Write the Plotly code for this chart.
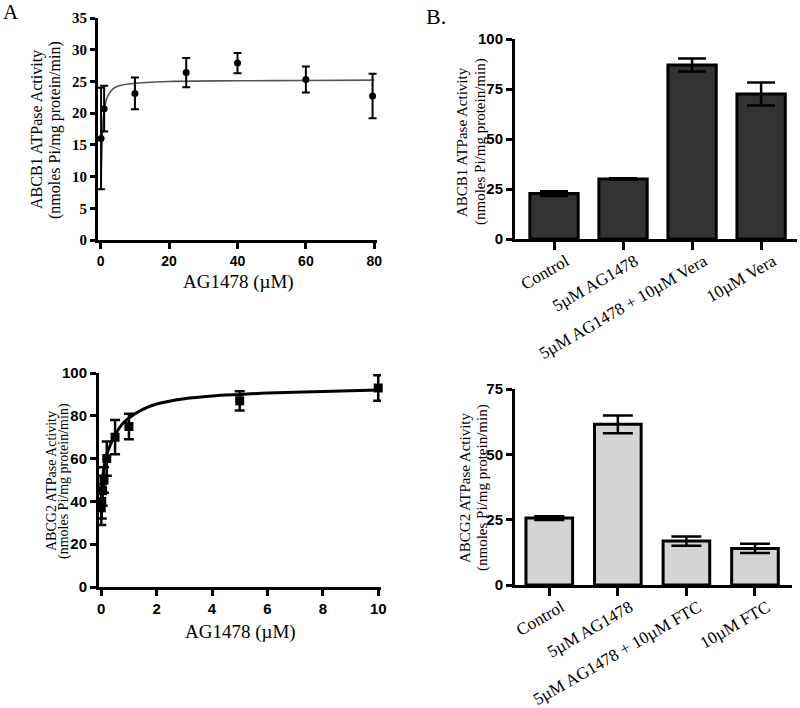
import plotly.graph_objects as go

# ---- Panel A top: ABCB1 vs AG1478 (0-80 uM)
a1_x = [0.1, 1, 10, 25, 40, 60, 79.5]
a1_y = [16.0, 20.7, 23.1, 26.4, 27.9, 25.3, 22.7]
a1_err = [8.0, 3.6, 2.5, 2.3, 1.6, 2.05, 3.5]
a1_fit_x = [0, 0.3, 0.6, 1, 1.5, 2, 3, 4, 6, 8, 12, 20, 40, 60, 80]
a1_fit_y = [8.0, 14.0, 18.0, 20.5, 21.8, 22.6, 23.5, 24.0, 24.4, 24.6, 24.8, 25.0, 25.1, 25.15, 25.2]
a1_xticks = [0, 20, 40, 60, 80]
a1_yticks = [0, 5, 10, 15, 20, 25, 30, 35]

# ---- Panel A bottom: ABCG2 vs AG1478 (0-10 uM)
a2_x = [0, 0.02, 0.05, 0.1, 0.2, 0.5, 1, 5, 10]
a2_y = [37, 40, 45, 50, 60, 70, 75, 87, 93]
a2_err = [8, 8, 7, 6, 8, 8, 6, 4.5, 6]
a2_fit_x = [0, 0.05, 0.1, 0.2, 0.35, 0.5, 0.75, 1, 1.5, 2, 3, 4, 5, 6, 8, 10]
a2_fit_y = [38, 50, 56, 62, 67, 71, 76, 79, 83, 85.5, 88, 89.3, 90, 90.6, 91.3, 92]
a2_xticks = [0, 2, 4, 6, 8, 10]
a2_yticks = [0, 20, 40, 60, 80, 100]

# ---- Panel B top: ABCB1 bars
b1_cats = ["Control", "5µM AG1478", "5µM AG1478 + 10µM Vera", "10µM Vera"]
b1_vals = [22.7, 30.0, 87.0, 72.5]
b1_err = [1.2, 0.4, 3.2, 5.8]
b1_yticks = [0, 25, 50, 75, 100]

# ---- Panel B bottom: ABCG2 bars
b2_cats = ["Control", "5µM AG1478", "5µM AG1478 + 10µM FTC", "10µM FTC"]
b2_vals = [25.6, 61.5, 16.8, 14.0]
b2_err = [0.7, 3.4, 1.8, 1.8]
b2_yticks = [0, 25, 50, 75]

W, H = 800, 708
def px(x): return x / W
def py(y): return 1 - y / H

SERIF = "Liberation Serif"
SANS = "Liberation Sans"

fig = go.Figure()

# A top
fig.add_trace(go.Scatter(x=a1_fit_x, y=a1_fit_y, mode="lines", line=dict(color="#555555", width=1.6, shape="spline"),
                         xaxis="x", yaxis="y", showlegend=False, cliponaxis=False))
fig.add_trace(go.Scatter(x=a1_x, y=a1_y, mode="markers", marker=dict(color="black", size=7, symbol="circle"),
                         error_y=dict(type="data", array=a1_err, color="black", thickness=2, width=4),
                         xaxis="x", yaxis="y", showlegend=False, cliponaxis=False))
# A bottom
fig.add_trace(go.Scatter(x=a2_fit_x, y=a2_fit_y, mode="lines", line=dict(color="black", width=3, shape="spline"),
                         xaxis="x2", yaxis="y2", showlegend=False, cliponaxis=False))
fig.add_trace(go.Scatter(x=a2_x, y=a2_y, mode="markers", marker=dict(color="black", size=9, symbol="square"),
                         error_y=dict(type="data", array=a2_err, color="black", thickness=2.5, width=5),
                         xaxis="x2", yaxis="y2", showlegend=False, cliponaxis=False))
# B top
fig.add_trace(go.Bar(x=list(range(len(b1_cats))), y=b1_vals, width=0.7,
                     marker=dict(color="#333333", line=dict(color="black", width=3)),
                     error_y=dict(type="data", array=b1_err, color="black", thickness=2.5, width=14),
                     xaxis="x3", yaxis="y3", showlegend=False))
# B bottom
fig.add_trace(go.Bar(x=list(range(len(b2_cats))), y=b2_vals, width=0.68,
                     marker=dict(color="#d4d4d4", line=dict(color="black", width=3)),
                     error_y=dict(type="data", array=b2_err, color="black", thickness=2.5, width=15),
                     xaxis="x4", yaxis="y4", showlegend=False))

def ax(**kw):
    base = dict(showline=True, linewidth=3, linecolor="black", ticks="outside", ticklen=6, tickwidth=3,
                tickcolor="black", showgrid=False, zeroline=False, mirror=False, automargin=False)
    base.update(kw)
    return base

def bold(vals):
    return [f"<b>{v}</b>" for v in vals]

def tf(fam, size):
    return dict(family=fam, size=size, color="black")

catfont = dict(family=SERIF, size=17, color="black")

fig.update_layout(
    width=W, height=H, margin=dict(l=0, r=0, t=0, b=0, pad=0),
    paper_bgcolor="white", plot_bgcolor="white",
    xaxis=ax(domain=[px(98), px(377)], anchor="y", range=[-0.8, 80.8], tickvals=a1_xticks,
             ticktext=bold(a1_xticks), tickfont=tf(SANS, 14)),
    yaxis=ax(domain=[py(240), py(18)], anchor="x", range=[0, 35], tickvals=a1_yticks,
             ticktext=bold(a1_yticks), tickfont=tf(SERIF, 15), ticklen=5),
    xaxis2=ax(domain=[px(99), px(381)], anchor="y2", range=[-0.08, 10.1], tickvals=a2_xticks,
              ticktext=bold(a2_xticks), tickfont=tf(SANS, 15)),
    yaxis2=ax(domain=[py(587), py(373)], anchor="x2", range=[0, 100], tickvals=a2_yticks,
              ticktext=bold(a2_yticks), tickfont=tf(SANS, 15)),
    xaxis3=ax(domain=[px(515), px(797)], anchor="y3", range=[-0.565, 3.52], tickvals=list(range(len(b1_cats))),
              ticktext=b1_cats, tickangle=-30, tickfont=catfont, ticklen=8, ticklabelshift=12,
              ticklabelstandoff=-5),
    yaxis3=ax(domain=[py(239), py(39)], anchor="x3", range=[0, 100], tickvals=b1_yticks,
              ticktext=bold(b1_yticks), tickfont=tf(SANS, 15)),
    xaxis4=ax(domain=[px(515), px(792)], anchor="y4", range=[-0.5, 3.54], tickvals=list(range(len(b2_cats))),
              ticktext=b2_cats, tickangle=-30, tickfont=catfont, ticklen=8, ticklabelshift=12,
              ticklabelstandoff=-5),
    yaxis4=ax(domain=[py(585), py(389)], anchor="x4", range=[0, 75], tickvals=b2_yticks,
              ticktext=bold(b2_yticks), tickfont=tf(SANS, 15)),
)

def ann(text, x, y, size, angle=0, fam=SERIF):
    fig.add_annotation(text=text, x=px(x), y=py(y), xref="paper", yref="paper", showarrow=False,
                       textangle=angle, font=dict(family=fam, size=size, color="black"),
                       xanchor="center", yanchor="middle")

ann("A", 11, 12, 21)
ann("B.", 436, 17, 22)
ann("AG1478 (µM)", 238, 282, 19)
ann("AG1478 (µM)", 240, 632, 19)
# y titles
ann("ABCB1 ATPase Activity", 37, 130, 16, -90)
ann("(nmoles Pi/mg protein/min)", 55, 130, 16, -90)
ann("ABCG2 ATPase Activity", 51, 481, 14, -90)
ann("(nmoles Pi/mg protein/min)", 64, 481, 14, -90)
ann("ABCB1 ATPase Activity", 462, 142, 15, -90)
ann("(nmoles Pi/mg protein/min)", 480, 142, 15, -90)
ann("ABCG2 ATPase Activity", 465, 488, 15, -90)
ann("(nmoles Pi/mg protein/min)", 482, 488, 15, -90)

fig.write_html("out.html", config={"displayModeBar": False},
               post_script="document.body.style.margin='0';document.body.style.overflow='hidden';")
